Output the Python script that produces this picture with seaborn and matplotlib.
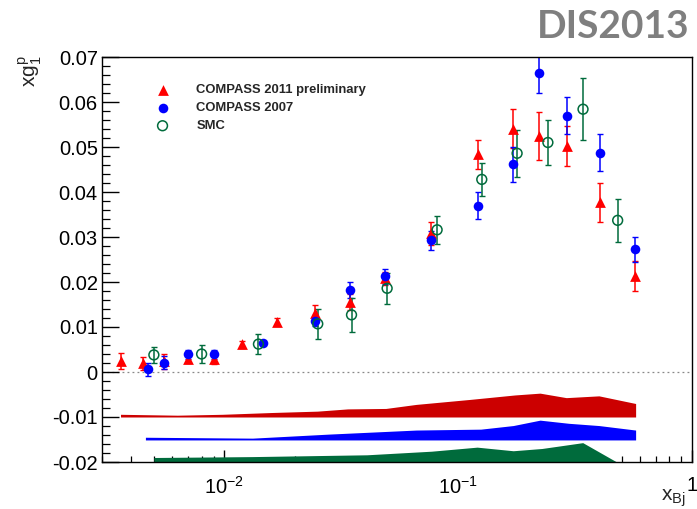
import numpy as np
import pandas as pd
import matplotlib
matplotlib.use("Agg")
import matplotlib.pyplot as plt
import seaborn as sns
from matplotlib.ticker import LogLocator, MultipleLocator, FixedLocator

# ---------------- data ----------------
c11_x = [0.0036, 0.0045, 0.0055, 0.0070, 0.0090, 0.0119, 0.0168, 0.0244, 0.0344,
         0.0485, 0.0764, 0.1216, 0.1722, 0.2225, 0.291, 0.405, 0.570]
c11_y = [0.0024, 0.0019, 0.0024, 0.0030, 0.0028, 0.0062, 0.0112, 0.0132, 0.0156,
         0.0208, 0.0308, 0.0484, 0.0541, 0.0525, 0.0502, 0.0377, 0.0214]
c11_e = [0.0018, 0.0015, 0.0017, 0.0010, 0.0011, 0.0008, 0.0008, 0.0018, 0.0018,
         0.0015, 0.0025, 0.0032, 0.0044, 0.0053, 0.0045, 0.0044, 0.0033]

c07_x = [0.0047, 0.0055, 0.0070, 0.0090, 0.0147, 0.0244, 0.0344, 0.0485, 0.0764,
         0.1216, 0.1722, 0.2225, 0.291, 0.405, 0.570]
c07_y = [0.0006, 0.0021, 0.0040, 0.0040, 0.0064, 0.0114, 0.0182, 0.0213, 0.0293,
         0.0370, 0.0462, 0.0664, 0.0570, 0.0487, 0.0273]
c07_e = [0.0015, 0.0014, 0.0010, 0.0010, 0.0004, 0.0012, 0.0018, 0.0017, 0.0021,
         0.0029, 0.0039, 0.0044, 0.0041, 0.0041, 0.0028]

smc_x = [0.0050, 0.0080, 0.0140, 0.0251, 0.0350, 0.0497, 0.0813, 0.1262, 0.1787,
         0.242, 0.342, 0.481]
smc_y = [0.0038, 0.0040, 0.0062, 0.0107, 0.0127, 0.0186, 0.0316, 0.0428, 0.0486,
         0.0510, 0.0584, 0.0337]
smc_e = [0.0018, 0.0021, 0.0022, 0.0033, 0.0038, 0.0035, 0.0031, 0.0037, 0.0052,
         0.0049, 0.0069, 0.0048]

# systematic bands (x, top), bottom constant per band
band11_x = [0.0036, 0.0063, 0.0098, 0.0160, 0.0250, 0.0337, 0.0491, 0.0662, 0.112,
            0.175, 0.224, 0.29, 0.40, 0.574]
band11_top = [-0.0094, -0.0096, -0.0094, -0.0090, -0.0087, -0.0082, -0.0081, -0.0072,
              -0.0061, -0.0051, -0.0047, -0.0057, -0.0053, -0.0070]
band11_base = -0.0100

band07_x = [0.0046, 0.0132, 0.0280, 0.0662, 0.125, 0.172, 0.224, 0.297, 0.40, 0.574]
band07_top = [-0.0145, -0.0147, -0.0138, -0.0129, -0.0127, -0.0119, -0.0107, -0.0114,
              -0.0119, -0.0129]
band07_base = -0.0151

bandsmc_x = [0.0050, 0.0132, 0.0407, 0.0769, 0.1205, 0.172, 0.228, 0.341, 0.473]
bandsmc_top = [-0.0190, -0.0188, -0.0184, -0.0176, -0.0167, -0.0175, -0.0170, -0.0157,
               -0.0199]
bandsmc_base = -0.0200

labels = ["COMPASS 2011 preliminary", "COMPASS 2007", "SMC"]
ytick_vals = [-0.02, -0.01, 0, 0.01, 0.02, 0.03, 0.04, 0.05, 0.06, 0.07]
ytick_labels = ["-0.02", "-0.01", "0", "0.01", "0.02", "0.03", "0.04", "0.05", "0.06", "0.07"]
xtick_vals = [0.01, 0.1, 1.0]
xtick_labels = [r"$10^{-2}$", r"$10^{-1}$", "1"]

# ---------------- style ----------------
sns.set_style("white")
plt.rcParams['font.family'] = ['Liberation Sans', 'DejaVu Sans']
plt.rcParams['mathtext.fontset'] = 'custom'
plt.rcParams['mathtext.rm'] = 'Liberation Sans'
plt.rcParams['mathtext.it'] = 'Liberation Sans'

RED = "#ff0000"
BLUE = "#0000ff"
GREEN = "#006b3c"

fig = plt.figure(figsize=(6.97, 5.09), dpi=100)
ax = fig.add_axes([102/697, 1-462/509, 590/697, 405/509])

# bands
ax.fill_between(band11_x, band11_base, band11_top, color="#cc0000", lw=0, zorder=1)
ax.fill_between(band07_x, band07_base, band07_top, color=BLUE, lw=0, zorder=1)
ax.fill_between(bandsmc_x, bandsmc_base, bandsmc_top, color=GREEN, lw=0, zorder=1)

# zero line
ax.axhline(0, color="#888888", lw=0.9, ls=(0, (1.5, 2.5)), zorder=0)

# error bars
ax.errorbar(c11_x, c11_y, yerr=c11_e, fmt='none', ecolor=RED, elinewidth=1.1, capsize=2, capthick=1, zorder=2)
ax.errorbar(c07_x, c07_y, yerr=c07_e, fmt='none', ecolor=BLUE, elinewidth=1.1, capsize=2, capthick=1, zorder=2)
ax.errorbar(smc_x, smc_y, yerr=smc_e, fmt='none', ecolor=GREEN, elinewidth=1.1, capsize=2, capthick=1, zorder=2)

df11 = pd.DataFrame({"x": c11_x, "y": c11_y})
df07 = pd.DataFrame({"x": c07_x, "y": c07_y})
dfsmc = pd.DataFrame({"x": smc_x, "y": smc_y})

sns.scatterplot(data=df11, x="x", y="y", ax=ax, marker="^", s=60, color=RED,
                edgecolor=RED, linewidth=0, label=labels[0], zorder=3)
sns.scatterplot(data=df07, x="x", y="y", ax=ax, marker="o", s=48, color=BLUE,
                edgecolor=BLUE, linewidth=0, label=labels[1], zorder=3)
sns.scatterplot(data=dfsmc, x="x", y="y", ax=ax, marker="o", s=50, facecolor="none",
                edgecolor=GREEN, linewidth=1.1, label=labels[2], zorder=3)

ax.set_xscale("log")
ax.set_xlim(0.003, 1.0)
ax.set_ylim(-0.02, 0.07)
ax.set_xlabel("")
ax.set_ylabel("")

for s in ax.spines.values():
    s.set_color("black")
    s.set_linewidth(1.0)

ax.set_yticks(ytick_vals)
ax.set_yticklabels(ytick_labels)
ax.yaxis.set_minor_locator(MultipleLocator(0.002))
ax.xaxis.set_major_locator(FixedLocator(xtick_vals))
ax.set_xticklabels(xtick_labels)
ax.xaxis.set_minor_locator(LogLocator(base=10, subs=np.arange(2, 10)))

ax.tick_params(axis='both', which='both', direction='in', top=False, right=False,
               left=True, bottom=True, colors='black')
ax.tick_params(axis='y', which='major', length=12, width=1.0, labelsize=14.5, pad=3)
ax.tick_params(axis='y', which='minor', length=6, width=0.9)
ax.tick_params(axis='x', which='major', length=9, width=1.0, labelsize=14.5, pad=10)
ax.tick_params(axis='x', which='minor', length=4.5, width=0.9)

leg = ax.legend(loc="upper left", bbox_to_anchor=(156/697, 1-84/509),
                bbox_transform=fig.transFigure, frameon=False,
                prop={"weight": "bold", "size": 9.4}, handlelength=1.0,
                handletextpad=2.1, labelspacing=0.45, borderpad=0, borderaxespad=0)

fig.text(30/697, 1-55/509, r"$xg_1^p$", rotation=90, ha="center", va="top", fontsize=15)
fig.text(686/697, 1-501/509, r"$x_{Bj}$", ha="right", va="baseline", fontsize=15)

fig.text(690/697, 1-9/509, "DIS2013", ha="right", va="top", fontsize=28,
         fontweight="bold", color="#7f7f7f", family=["Lato", "DejaVu Sans"])

fig.savefig("out.png", dpi=100)
